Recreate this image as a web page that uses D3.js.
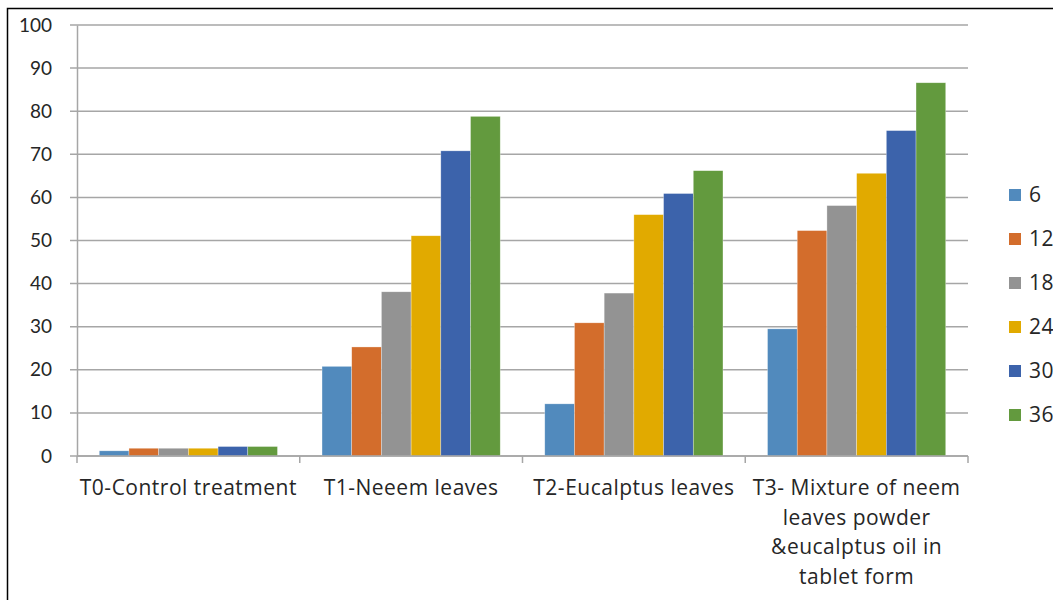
<!DOCTYPE html>
<html>
<head>
<meta charset="utf-8">
<script src="https://cdn.jsdelivr.net/npm/d3@7"></script>
<style>
  body { margin: 0; background: #fff; }
  text { font-family: Lato, "Open Sans", sans-serif; fill: #262626; }
  .lbl { font-family: "Open Sans", Lato, sans-serif; letter-spacing: 0.5px; }
</style>
</head>
<body>
<div id="viz"></div>
<script>
// data
let categories = [
  "T0-Control treatment",
  "T1-Neeem leaves",
  "T2-Eucalptus leaves",
  "T3- Mixture of neem leaves powder &eucalptus oil in tablet form"
]
let seriesNames = ["6", "12", "18", "24", "30", "36"]
let s6  = [1.2, 20.8, 12.1, 29.5]
let s12 = [1.8, 25.3, 30.9, 52.3]
let s18 = [1.8, 38.1, 37.8, 58.1]
let s24 = [1.8, 51.1, 56.0, 65.6]
let s30 = [2.2, 70.8, 60.9, 75.5]
let s36 = [2.2, 78.8, 66.2, 86.6]
let yTicks = [0, 10, 20, 30, 40, 50, 60, 70, 80, 90, 100]

let colors = ["#518abd", "#d36d2c", "#939393", "#e1aa00", "#3c63ab", "#639a3e"]

let series = [s6, s12, s18, s24, s30, s36]
let data = []
categories.forEach((c, i) => {
  series.forEach((s, j) => {
    data.push({cat: c, name: seriesNames[j], value: s[i]})
  })
})

let W = 1053, H = 600
let margin = {left: 77, right: 85, top: 25, bottom: 144}
let width = 968 - margin.left
let height = 456 - margin.top

let svg = d3.select("#viz").append("svg")
  .attr("width", W).attr("height", H)

// outer frame (cropped at right and bottom)
svg.append("path")
  .attr("d", "M7.5," + H + "V8.5H" + W)
  .attr("fill", "none").attr("stroke", "#000").attr("stroke-width", 1.5)

let g = svg.append("g")
  .attr("transform", "translate(" + margin.left + "," + margin.top + ")")

let x0 = d3.scaleBand().domain(categories).range([0, width]).padding(0)
let step = x0.bandwidth()
let barW = step / 7.5
// gap width 150% -> 0.75 bar on each side
let x1 = d3.scaleBand().domain(seriesNames).range([0.75 * barW, step - 0.75 * barW])

let y = d3.scaleLinear().domain([0, 100]).range([height, 0])

// gridlines
g.append("g").selectAll("line")
  .data(yTicks)
  .join("line")
    .attr("x1", -7).attr("x2", width)
    .attr("y1", d => y(d)).attr("y2", d => y(d))
    .attr("stroke", "#a6a6a6").attr("stroke-width", 1.5)

// y axis
let yAxis = d3.axisLeft(y).tickValues(yTicks).tickSize(0).tickPadding(25)
g.append("g").attr("id", "y-axis").call(yAxis)
  .call(a => a.select(".domain").attr("stroke", "#a6a6a6").attr("stroke-width", 1.5))
  .call(a => a.selectAll("text").attr("font-size", 19).style("fill", "#262626"))

// bars
g.append("g").selectAll("rect")
  .data(data)
  .join("rect")
    .attr("x", d => x0(d.cat) + x1(d.name))
    .attr("width", x1.bandwidth())
    .attr("y", d => y(d.value))
    .attr("height", d => height - y(d.value))
    .attr("fill", d => colors[seriesNames.indexOf(d.name)])
    .attr("stroke", "rgba(255,255,255,0.5)").attr("stroke-width", 0.6)

// x axis with ticks at category boundaries
let xAxisG = g.append("g").attr("transform", "translate(0," + height + ")")
xAxisG.append("line").attr("x1", 0).attr("x2", width)
  .attr("stroke", "#a6a6a6").attr("stroke-width", 1.5)
xAxisG.selectAll(".tk")
  .data(d3.range(categories.length + 1))
  .join("line").attr("class", "tk")
    .attr("x1", i => i * step).attr("x2", i => i * step)
    .attr("y1", 0).attr("y2", 7)
    .attr("stroke", "#a6a6a6").attr("stroke-width", 1.5)

// category labels, wrapped to category width
categories.forEach(c => {
  let cx = x0(c) + step / 2
  let t = xAxisG.append("text").attr("class", "lbl")
    .attr("x", cx).attr("y", 39)
    .attr("text-anchor", "middle").attr("font-size", 21)
  let words = c.split(" ")
  let line = []
  let tspan = t.append("tspan").attr("x", cx).attr("dy", 0)
  words.forEach(w => {
    line.push(w)
    tspan.text(line.join(" "))
    if (tspan.node().getComputedTextLength() > step && line.length > 1) {
      line.pop()
      tspan.text(line.join(" "))
      line = [w]
      tspan = t.append("tspan").attr("x", cx).attr("dy", 29.7).text(w)
    }
  })
})

// legend
let legend = svg.append("g").attr("transform", "translate(1009,195)")
let li = legend.selectAll("g")
  .data(seriesNames)
  .join("g")
    .attr("transform", (d, i) => "translate(0," + i * 44 + ")")
li.append("rect")
  .attr("x", 0).attr("y", -6).attr("width", 12).attr("height", 12)
  .attr("fill", (d, i) => colors[i])
li.append("text").attr("class", "lbl")
  .attr("x", 20).attr("y", 0).attr("dy", "0.35em")
  .attr("font-size", 21)
  .text(d => d)
</script>
</body>
</html>
